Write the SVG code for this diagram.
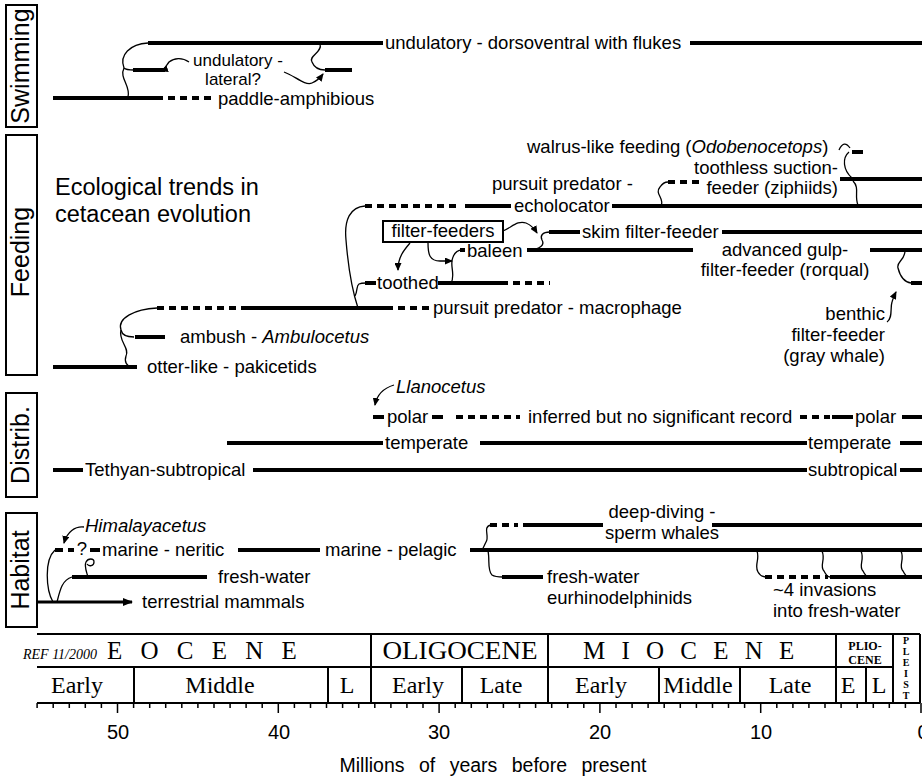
<svg xmlns="http://www.w3.org/2000/svg" width="922" height="777" viewBox="0 0 922 777">
  <defs>
    <marker id="arrow" markerUnits="userSpaceOnUse" markerWidth="8" markerHeight="7" refX="7" refY="3.5" orient="auto">
      <path d="M0,0 L8,3.5 L0,7 z" fill="#000"/>
    </marker>
    <marker id="arrow-lg" markerUnits="userSpaceOnUse" markerWidth="10" markerHeight="8" refX="9" refY="4" orient="auto">
      <path d="M0,0 L10,4 L0,8 z" fill="#000"/>
    </marker>
  </defs>
  <style>
    text { font-family: "Liberation Sans", Arial, Helvetica, sans-serif; fill: #000; }
    .lbl { font-size: 18.5px; }
    .sm { font-size: 17px; }
    .title { font-size: 23.5px; }
    .it { font-style: italic; }
    .sec { font-size: 25px; }
    .bar { stroke: #000; stroke-width: 4; fill: none; }
    .dash { stroke: #000; stroke-width: 4; stroke-dasharray: 7 5; fill: none; }
    .con { stroke: #000; stroke-width: 1.3; fill: none; }
    .box { fill: none; stroke: #000; stroke-width: 2; }
    text.ser, .ser text { font-family: "Liberation Serif", "Times New Roman", serif; }
    .grid { stroke: #000; stroke-width: 2; fill: none; }
    .tick { stroke: #000; stroke-width: 1.5; }
  </style>
  <rect width="922" height="777" fill="#fff"/>

  <!-- section headers -->
  <g id="hdr-swimming">
    <rect class="box" x="6" y="5" width="31" height="122"/>
    <text class="sec" transform="translate(29,66) rotate(-90)" text-anchor="middle">Swimming</text>
  </g>
  <g id="hdr-feeding">
    <rect class="box" x="6" y="135" width="31" height="240"/>
    <text class="sec" transform="translate(29,252) rotate(-90)" text-anchor="middle">Feeding</text>
  </g>
  <g id="hdr-distrib">
    <rect class="box" x="6" y="393" width="31" height="104"/>
    <text class="sec" transform="translate(29,445) rotate(-90)" text-anchor="middle">Distrib.</text>
  </g>
  <g id="hdr-habitat">
    <rect class="box" x="6" y="513" width="31" height="114"/>
    <text class="sec" transform="translate(29,570) rotate(-90)" text-anchor="middle">Habitat</text>
  </g>

  <g id="title">
    <text class="title" x="55" y="195">Ecological trends in</text>
    <text class="title" x="55" y="222">cetacean evolution</text>
  </g>

  <!-- ===== Swimming ===== -->
  <g id="swim-dorsoventral">
    <line class="bar" x1="148" y1="43" x2="383" y2="43"/>
    <text class="lbl" x="385" y="49">undulatory - dorsoventral with flukes</text>
    <line class="bar" x1="690" y1="43" x2="922" y2="43"/>
  </g>
  <g id="swim-lateral">
    <line class="bar" x1="133" y1="70" x2="165" y2="70"/>
    <line class="bar" x1="325" y1="70" x2="352" y2="70"/>
    <text class="sm" x="238" y="65.5" text-anchor="middle">undulatory -</text>
    <text class="sm" x="233" y="84.5" text-anchor="middle">lateral?</text>
  </g>
  <g id="swim-paddle">
    <line class="bar" x1="53" y1="98" x2="163" y2="98"/>
    <line class="dash" x1="168" y1="98" x2="215" y2="98"/>
    <text class="lbl" x="218" y="105">paddle-amphibious</text>
  </g>

  <!-- ===== Feeding ===== -->
  <g id="feed-walrus">
    <text class="lbl" x="527" y="153">walrus-like feeding (<tspan class="it">Odobenocetops</tspan>)</text>
    <line class="bar" x1="852" y1="152" x2="863" y2="152"/>
  </g>
  <g id="feed-ziphiid">
    <line class="dash" x1="668" y1="182" x2="704" y2="182"/>
    <text class="lbl" x="838" y="174" text-anchor="end">toothless suction-</text>
    <text class="lbl" x="838" y="194" text-anchor="end">feeder (ziphiids)</text>
    <line class="bar" x1="840" y1="179" x2="922" y2="179"/>
  </g>
  <g id="feed-echolocator">
    <line class="dash" x1="365" y1="206" x2="460" y2="206"/>
    <line class="bar" x1="465" y1="206" x2="511" y2="206"/>
    <text class="lbl" x="492" y="190">pursuit predator -</text>
    <text class="lbl" x="514" y="212">echolocator</text>
    <line class="bar" x1="612" y1="206" x2="922" y2="206"/>
  </g>
  <g id="feed-filter-box">
    <rect class="box" x="383" y="221" width="120" height="21"/>
    <text class="lbl" x="443" y="237" text-anchor="middle">filter-feeders</text>
  </g>
  <g id="feed-skim">
    <line class="bar" x1="549" y1="232" x2="580" y2="232"/>
    <text class="lbl" x="582" y="238">skim filter-feeder</text>
    <line class="bar" x1="722" y1="232" x2="922" y2="232"/>
  </g>
  <g id="feed-baleen">
    <line class="bar" x1="460" y1="250" x2="465" y2="250"/>
    <text class="lbl" x="467" y="257">baleen</text>
    <line class="bar" x1="527" y1="250" x2="693" y2="250"/>
    <text class="lbl" x="785" y="256" text-anchor="middle">advanced gulp-</text>
    <text class="lbl" x="785" y="276" text-anchor="middle">filter-feeder (rorqual)</text>
    <line class="bar" x1="870" y1="250" x2="922" y2="250"/>
  </g>
  <g id="feed-benthic">
    <line class="bar" x1="911" y1="283" x2="922" y2="283"/>
    <text class="lbl" x="885" y="320" text-anchor="end">benthic</text>
    <text class="lbl" x="885" y="341" text-anchor="end">filter-feeder</text>
    <text class="lbl" x="885" y="362" text-anchor="end">(gray whale)</text>
  </g>
  <g id="feed-toothed">
    <line class="bar" x1="365" y1="283" x2="376" y2="283"/>
    <text class="lbl" x="377" y="289">toothed</text>
    <line class="bar" x1="438" y1="283" x2="508" y2="283"/>
    <line class="dash" x1="513" y1="283" x2="550" y2="283"/>
  </g>
  <g id="feed-macrophage">
    <line class="dash" x1="157" y1="308" x2="245" y2="308"/>
    <line class="bar" x1="245" y1="308" x2="393" y2="308"/>
    <line class="dash" x1="398" y1="308" x2="432" y2="308"/>
    <text class="lbl" x="433" y="314">pursuit predator - macrophage</text>
  </g>
  <g id="feed-ambush">
    <line class="bar" x1="135" y1="337" x2="165" y2="337"/>
    <text class="lbl" x="180" y="343">ambush - <tspan class="it">Ambulocetus</tspan></text>
  </g>
  <g id="feed-otter">
    <line class="bar" x1="53" y1="367" x2="137" y2="367"/>
    <text class="lbl" x="147" y="373">otter-like - pakicetids</text>
  </g>

  <!-- ===== Distribution ===== -->
  <g id="dist-polar">
    <text class="lbl it" x="396" y="393">Llanocetus</text>
    <line class="bar" x1="373" y1="417" x2="384" y2="417"/>
    <text class="lbl" x="387" y="423">polar</text>
    <line class="bar" x1="432" y1="417" x2="443" y2="417"/>
    <line class="dash" x1="456" y1="417" x2="520" y2="417"/>
    <text class="lbl" x="528" y="423">inferred but no significant record</text>
    <line class="dash" x1="800" y1="417" x2="830" y2="417"/>
    <line class="bar" x1="832" y1="417" x2="853" y2="417"/>
    <text class="lbl" x="855" y="423">polar</text>
    <line class="bar" x1="902" y1="417" x2="922" y2="417"/>
  </g>
  <g id="dist-temperate">
    <line class="bar" x1="227" y1="443" x2="383" y2="443"/>
    <text class="lbl" x="385" y="449">temperate</text>
    <line class="bar" x1="480" y1="443" x2="807" y2="443"/>
    <text class="lbl" x="808" y="449">temperate</text>
    <line class="bar" x1="900" y1="443" x2="922" y2="443"/>
  </g>
  <g id="dist-subtropical">
    <line class="bar" x1="53" y1="470" x2="83" y2="470"/>
    <text class="lbl" x="85" y="476">Tethyan-subtropical</text>
    <line class="bar" x1="253" y1="470" x2="807" y2="470"/>
    <text class="lbl" x="808" y="476">subtropical</text>
    <line class="bar" x1="900" y1="470" x2="922" y2="470"/>
  </g>

  <!-- ===== Habitat ===== -->
  <g id="hab-neritic">
    <text class="lbl it" x="85" y="532">Himalayacetus</text>
    <line class="bar" x1="55" y1="550" x2="63" y2="550"/>
    <line class="bar" x1="68" y1="550" x2="74" y2="550"/>
    <text class="lbl" x="82" y="555" text-anchor="middle" font-size="14">?</text>
    <line class="bar" x1="90" y1="550" x2="100" y2="550"/>
    <text class="lbl" x="102" y="556">marine - neritic</text>
    <line class="bar" x1="238" y1="550" x2="320" y2="550"/>
  </g>
  <g id="hab-pelagic">
    <text class="lbl" x="325" y="556">marine - pelagic</text>
    <line class="bar" x1="470" y1="550" x2="922" y2="550"/>
  </g>
  <g id="hab-deep-diving">
    <line class="dash" x1="490" y1="525" x2="518" y2="525"/>
    <line class="bar" x1="523" y1="525" x2="603" y2="525"/>
    <text class="lbl" x="662" y="518" text-anchor="middle">deep-diving -</text>
    <text class="lbl" x="662" y="539" text-anchor="middle">sperm whales</text>
    <line class="bar" x1="712" y1="525" x2="922" y2="525"/>
  </g>
  <g id="hab-freshwater">
    <line class="bar" x1="72" y1="577" x2="207" y2="577"/>
    <text class="lbl" x="218" y="583">fresh-water</text>
  </g>
  <g id="hab-eurhinodelphinids">
    <line class="bar" x1="502" y1="577" x2="543" y2="577"/>
    <text class="lbl" x="547" y="583">fresh-water</text>
    <text class="lbl" x="547" y="604">eurhinodelphinids</text>
  </g>
  <g id="hab-invasions">
    <line class="dash" x1="765" y1="577" x2="828" y2="577"/>
    <line class="bar" x1="830" y1="577" x2="922" y2="577"/>
    <text class="lbl" x="773" y="596">~4 invasions</text>
    <text class="lbl" x="773" y="617">into fresh-water</text>
  </g>
  <g id="hab-terrestrial">
    <line x1="37" y1="602" x2="132" y2="602" stroke="#000" stroke-width="3" marker-end="url(#arrow-lg)"/>
    <text class="lbl" x="142" y="608">terrestrial mammals</text>
  </g>

  <!-- ===== connectors ===== -->
  <g id="connectors">
    <!-- swimming -->
    <path class="con" d="M148,43 C130,44 119,55 124,68"/>
    <path class="con" d="M124,68 C126,70 130,70 134,70"/>
    <path class="con" d="M124,68 C119,78 131,86 128,97"/>
    <path class="con" d="M320,44 C323,52 308,56 312,62 C314,67 319,70 325,70"/>
    <path class="con" d="M189,62 C182,57 174,58 169,62 C166,66 164,70 161,71" marker-end="url(#arrow)"/>
    <path class="con" d="M284,72 C295,76 305,86 312,83 C317,81 320,78 323,74" marker-end="url(#arrow)"/>
    <!-- feeding -->
    <path class="con" d="M839,150 C842,143 846,142 850,148"/>
    <path class="con" d="M849,152 C842,158 843,170 852,178"/>
    <path class="con" d="M853,181 C860,188 854,196 858,205"/>
    <path class="con" d="M661,206 C665,198 654,194 660,187 C662,184 664,182 668,182"/>
    <path class="con" d="M365,206 C350,207 344,220 346,240 C348,265 352,290 358,308"/>
    <path class="con" d="M355,296 C358,290 356,286 359,284 C361,283 363,283 366,283"/>
    <path class="con" d="M157,308 C135,309 117,318 121,330 C122,335 126,337 134,337"/>
    <path class="con" d="M121,330 C118,341 130,348 126,356 C124,362 127,366 131,367"/>
    <path class="con" d="M410,243 C404,250 398,257 398,270" marker-end="url(#arrow)"/>
    <path class="con" d="M428,243 C428,255 430,261 440,261 L452,261" marker-end="url(#arrow)"/>
    <path class="con" d="M503,231 C512,227 518,220 526,223 C531,225 534,228 537,233" marker-end="url(#arrow)"/>
    <path class="con" d="M550,232 C542,232 540,236 542,240 C545,245 540,249 530,250"/>
    <path class="con" d="M451,283 C456,275 449,265 453,257 C455,252 458,250 462,250"/>
    <path class="con" d="M905,251 C905,260 896,262 898,268 C900,276 904,282 911,283"/>
    <path class="con" d="M887,322 C893,318 890,308 892,302 C893,298 894,296 896,292" marker-end="url(#arrow)"/>
    <!-- distribution -->
    <path class="con" d="M394,385 C384,388 377,394 375,405" marker-end="url(#arrow)"/>
    <!-- habitat -->
    <path class="con" d="M84,527 C75,526 67,532 64,543" marker-end="url(#arrow)"/>
    <path class="con" d="M88,577 C86,570 84,566 86,562 C88,558 94,558 94,562 C94,566 89,567 87,564"/>
    <path class="con" d="M53,602 C46,590 44,560 55,550"/>
    <path class="con" d="M57,602 C60,590 62,580 72,577"/>
    <path class="con" d="M491,525 C482,527 490,536 486,542 C484,546 483,549 482,550"/>
    <path class="con" d="M488,551 C490,560 487,570 492,575 C495,577 498,577 503,577"/>
    <path class="con" d="M757,551 C760,560 754,565 758,572 C760,576 763,577 767,577"/>
    <path class="con" d="M822,551 C826,560 819,566 824,571 C826,575 828,577 830,577"/>
    <path class="con" d="M861,551 C865,560 858,566 863,571 C865,575 867,577 869,577"/>
    <path class="con" d="M901,551 C905,560 898,566 903,571 C905,575 907,577 909,577"/>
  </g>

  <!-- ===== geological time scale ===== -->
  <g id="timescale">
    <path class="grid" d="M37,634 H920 M37,667 H893 M37,703 H920 M371,634 V703 M548,634 V703 M836,634 V703 M893,634 V703 M920,634 V703 M134,667 V703 M328,667 V703 M462,667 V703 M659,667 V703 M740,667 V703 M866,667 V703"/>
    <text class="ser it" x="23" y="659" font-size="14">REF 11/2000</text>
    <text class="ser" x="107" y="659" font-size="25" letter-spacing="6">E O C E N E</text>
    <text class="ser" x="460" y="659" font-size="25" text-anchor="middle" textLength="155" lengthAdjust="spacingAndGlyphs">OLIGOCENE</text>
    <text class="ser" x="583" y="659" font-size="25" letter-spacing="5">M I O C E N E</text>
    <text class="ser" x="865" y="650" font-size="12" font-weight="bold" text-anchor="middle">PLIO-</text>
    <text class="ser" x="865" y="664" font-size="12" font-weight="bold" text-anchor="middle">CENE</text>
    <text class="ser" x="906" font-size="10" font-weight="bold" text-anchor="middle"><tspan x="906" y="644">P</tspan><tspan x="906" y="655">L</tspan><tspan x="906" y="666">E</tspan><tspan x="906" y="677">I</tspan><tspan x="906" y="688">S</tspan><tspan x="906" y="699">T</tspan></text>
    <g class="ser" font-size="24" text-anchor="middle">
      <text x="77" y="693">Early</text>
      <text x="220" y="693">Middle</text>
      <text x="347" y="693">L</text>
      <text x="418" y="693">Early</text>
      <text x="501" y="693">Late</text>
      <text x="601" y="693">Early</text>
      <text x="698" y="693">Middle</text>
      <text x="790" y="693">Late</text>
      <text x="848" y="693">E</text>
      <text x="879" y="693">L</text>
    </g>
    <path class="tick" d="M37.1,703v5 M53.2,703v5 M69.3,703v5 M85.3,703v5 M101.4,703v5 M117.5,703v10 M133.6,703v5 M149.7,703v5 M165.7,703v5 M181.8,703v5 M197.9,703v5 M214,703v5 M230.1,703v5 M246.1,703v5 M262.2,703v5 M278.3,703v10 M294.4,703v5 M310.5,703v5 M326.5,703v5 M342.6,703v5 M358.7,703v5 M374.8,703v5 M390.9,703v5 M406.9,703v5 M423,703v5 M439.1,703v10 M455.2,703v5 M471.3,703v5 M487.3,703v5 M503.4,703v5 M519.5,703v5 M535.6,703v5 M551.7,703v5 M567.7,703v5 M583.8,703v5 M599.9,703v10 M616,703v5 M632.1,703v5 M648.1,703v5 M664.2,703v5 M680.3,703v5 M696.4,703v5 M712.5,703v5 M728.5,703v5 M744.6,703v5 M760.7,703v10 M776.8,703v5 M792.9,703v5 M808.9,703v5 M825,703v5 M841.1,703v5 M857.2,703v5 M873.3,703v5 M889.3,703v5 M905.4,703v5 M921,703v10"/>
    <g font-size="20" text-anchor="middle">
      <text x="118" y="739">50</text>
      <text x="279" y="739">40</text>
      <text x="439" y="739">30</text>
      <text x="600" y="739">20</text>
      <text x="761" y="739">10</text>
      <text x="923" y="739">0</text>
    </g>
    <text x="493" y="772" font-size="19.5" text-anchor="middle" word-spacing="9">Millions of years before present</text>
  </g>
</svg>
